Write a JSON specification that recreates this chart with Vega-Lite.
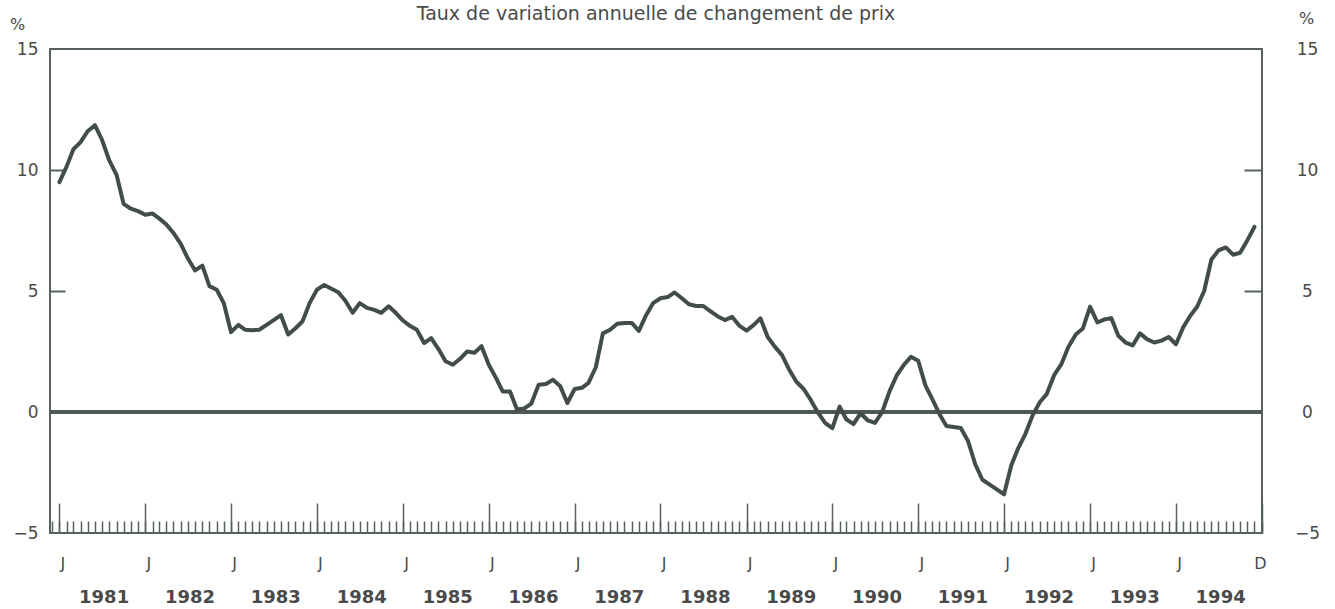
{
  "$schema": "https://vega.github.io/schema/vega-lite/v6.json",
  "width": 1212,
  "height": 484,
  "autosize": "none",
  "padding": {"left": 50, "top": 49, "right": 73, "bottom": 76},
  "background": "white",
  "config": {
    "view": {"stroke": "#56625a", "strokeWidth": 2},
    "axis": {"grid": false, "domain": false, "labelFont": "DejaVu Sans", "labelColor": "#4a4a4a", "tickColor": "#56625a", "titleFont": "DejaVu Sans", "titleColor": "#4a4a4a"}
  },
  "title": {"text": "Taux de variation annuelle de changement de prix", "font": "DejaVu Sans", "fontSize": 19, "fontWeight": "normal", "color": "#4a4a4a", "anchor": "middle", "baseline": "alphabetic", "offset": -29},
  "data": {"values": [
    {"d":"1981-01-01","v":9.5},{"d":"1981-02-01","v":10.15},{"d":"1981-03-01","v":10.85},{"d":"1981-04-01","v":11.15},{"d":"1981-05-01","v":11.6},{"d":"1981-06-01","v":11.85},{"d":"1981-07-01","v":11.25},{"d":"1981-08-01","v":10.4},{"d":"1981-09-01","v":9.8},{"d":"1981-10-01","v":8.6},{"d":"1981-11-01","v":8.4},{"d":"1981-12-01","v":8.3},
    {"d":"1982-01-01","v":8.15},{"d":"1982-02-01","v":8.2},{"d":"1982-03-01","v":8.0},{"d":"1982-04-01","v":7.75},{"d":"1982-05-01","v":7.4},{"d":"1982-06-01","v":6.95},{"d":"1982-07-01","v":6.35},{"d":"1982-08-01","v":5.85},{"d":"1982-09-01","v":6.05},{"d":"1982-10-01","v":5.2},{"d":"1982-11-01","v":5.05},{"d":"1982-12-01","v":4.5},
    {"d":"1983-01-01","v":3.3},{"d":"1983-02-01","v":3.6},{"d":"1983-03-01","v":3.4},{"d":"1983-04-01","v":3.38},{"d":"1983-05-01","v":3.4},{"d":"1983-06-01","v":3.6},{"d":"1983-07-01","v":3.8},{"d":"1983-08-01","v":4.0},{"d":"1983-09-01","v":3.2},{"d":"1983-10-01","v":3.45},{"d":"1983-11-01","v":3.75},{"d":"1983-12-01","v":4.5},
    {"d":"1984-01-01","v":5.05},{"d":"1984-02-01","v":5.25},{"d":"1984-03-01","v":5.1},{"d":"1984-04-01","v":4.95},{"d":"1984-05-01","v":4.6},{"d":"1984-06-01","v":4.1},{"d":"1984-07-01","v":4.5},{"d":"1984-08-01","v":4.3},{"d":"1984-09-01","v":4.22},{"d":"1984-10-01","v":4.1},{"d":"1984-11-01","v":4.37},{"d":"1984-12-01","v":4.1},
    {"d":"1985-01-01","v":3.78},{"d":"1985-02-01","v":3.55},{"d":"1985-03-01","v":3.4},{"d":"1985-04-01","v":2.85},{"d":"1985-05-01","v":3.05},{"d":"1985-06-01","v":2.6},{"d":"1985-07-01","v":2.1},{"d":"1985-08-01","v":1.95},{"d":"1985-09-01","v":2.2},{"d":"1985-10-01","v":2.5},{"d":"1985-11-01","v":2.45},{"d":"1985-12-01","v":2.72},
    {"d":"1986-01-01","v":1.95},{"d":"1986-02-01","v":1.4},{"d":"1986-03-01","v":0.85},{"d":"1986-04-01","v":0.85},{"d":"1986-05-01","v":0.1},{"d":"1986-06-01","v":0.15},{"d":"1986-07-01","v":0.35},{"d":"1986-08-01","v":1.13},{"d":"1986-09-01","v":1.16},{"d":"1986-10-01","v":1.33},{"d":"1986-11-01","v":1.06},{"d":"1986-12-01","v":0.37},
    {"d":"1987-01-01","v":0.95},{"d":"1987-02-01","v":1.0},{"d":"1987-03-01","v":1.2},{"d":"1987-04-01","v":1.85},{"d":"1987-05-01","v":3.25},{"d":"1987-06-01","v":3.4},{"d":"1987-07-01","v":3.65},{"d":"1987-08-01","v":3.68},{"d":"1987-09-01","v":3.68},{"d":"1987-10-01","v":3.35},{"d":"1987-11-01","v":4.0},{"d":"1987-12-01","v":4.5},
    {"d":"1988-01-01","v":4.7},{"d":"1988-02-01","v":4.75},{"d":"1988-03-01","v":4.94},{"d":"1988-04-01","v":4.7},{"d":"1988-05-01","v":4.45},{"d":"1988-06-01","v":4.38},{"d":"1988-07-01","v":4.38},{"d":"1988-08-01","v":4.16},{"d":"1988-09-01","v":3.95},{"d":"1988-10-01","v":3.8},{"d":"1988-11-01","v":3.93},{"d":"1988-12-01","v":3.57},
    {"d":"1989-01-01","v":3.36},{"d":"1989-02-01","v":3.6},{"d":"1989-03-01","v":3.87},{"d":"1989-04-01","v":3.1},{"d":"1989-05-01","v":2.7},{"d":"1989-06-01","v":2.35},{"d":"1989-07-01","v":1.76},{"d":"1989-08-01","v":1.25},{"d":"1989-09-01","v":0.95},{"d":"1989-10-01","v":0.5},{"d":"1989-11-01","v":-0.03},{"d":"1989-12-01","v":-0.45},
    {"d":"1990-01-01","v":-0.67},{"d":"1990-02-01","v":0.22},{"d":"1990-03-01","v":-0.3},{"d":"1990-04-01","v":-0.5},{"d":"1990-05-01","v":-0.05},{"d":"1990-06-01","v":-0.35},{"d":"1990-07-01","v":-0.45},{"d":"1990-08-01","v":0.0},{"d":"1990-09-01","v":0.85},{"d":"1990-10-01","v":1.5},{"d":"1990-11-01","v":1.95},{"d":"1990-12-01","v":2.28},
    {"d":"1991-01-01","v":2.12},{"d":"1991-02-01","v":1.09},{"d":"1991-03-01","v":0.55},{"d":"1991-04-01","v":-0.08},{"d":"1991-05-01","v":-0.58},{"d":"1991-06-01","v":-0.62},{"d":"1991-07-01","v":-0.66},{"d":"1991-08-01","v":-1.2},{"d":"1991-09-01","v":-2.17},{"d":"1991-10-01","v":-2.8},{"d":"1991-11-01","v":-3.0},{"d":"1991-12-01","v":-3.2},
    {"d":"1992-01-01","v":-3.4},{"d":"1992-02-01","v":-2.2},{"d":"1992-03-01","v":-1.5},{"d":"1992-04-01","v":-0.9},{"d":"1992-05-01","v":-0.15},{"d":"1992-06-01","v":0.4},{"d":"1992-07-01","v":0.75},{"d":"1992-08-01","v":1.52},{"d":"1992-09-01","v":1.98},{"d":"1992-10-01","v":2.7},{"d":"1992-11-01","v":3.2},{"d":"1992-12-01","v":3.45},
    {"d":"1993-01-01","v":4.35},{"d":"1993-02-01","v":3.7},{"d":"1993-03-01","v":3.82},{"d":"1993-04-01","v":3.88},{"d":"1993-05-01","v":3.15},{"d":"1993-06-01","v":2.87},{"d":"1993-07-01","v":2.75},{"d":"1993-08-01","v":3.25},{"d":"1993-09-01","v":3.0},{"d":"1993-10-01","v":2.87},{"d":"1993-11-01","v":2.95},{"d":"1993-12-01","v":3.1},
    {"d":"1994-01-01","v":2.8},{"d":"1994-02-01","v":3.5},{"d":"1994-03-01","v":3.95},{"d":"1994-04-01","v":4.35},{"d":"1994-05-01","v":5.0},{"d":"1994-06-01","v":6.3},{"d":"1994-07-01","v":6.68},{"d":"1994-08-01","v":6.8},{"d":"1994-09-01","v":6.5},{"d":"1994-10-01","v":6.58},{"d":"1994-11-01","v":7.1},{"d":"1994-12-01","v":7.65}
  ]},
  "layer": [
    {
      "mark": {"type": "rule", "stroke": "#4d5a52", "strokeWidth": 2.5},
      "encoding": {"y": {"datum": 0, "type": "quantitative", "axis": null}}
    },
    {
      "mark": {"type": "line", "stroke": "#434d47", "strokeWidth": 4, "strokeJoin": "round", "strokeCap": "round"},
      "encoding": {
        "x": {"field": "d", "type": "temporal", "scale": {"type": "utc", "domain": [{"year": 1980, "month": 11, "date": 22, "utc": true}, {"year": 1995, "month": 1, "date": 2, "utc": true}]},
              "axis": {"orient": "bottom", "title": null, "labels": false, "ticks": true, "tickSize": -12, "tickWidth": 1.5, "tickCount": {"interval": "month", "step": 1}}},
        "y": {"field": "v", "type": "quantitative", "scale": {"domain": [-5, 15], "nice": false, "zero": false},
              "axis": {"orient": "left", "values": [-5, 0, 5, 10, 15], "ticks": false, "labelPadding": 12, "labelFontSize": 17, "labelBaseline": "middle",
                       "title": "%", "titleAngle": 0, "titleX": -33, "titleY": -25, "titleAlign": "center", "titleBaseline": "middle", "titleFontSize": 16, "titleFontWeight": "normal"}}
      }
    },
    {
      "mark": {"type": "line", "strokeOpacity": 0},
      "encoding": {
        "x": {"field": "d", "type": "temporal", "axis": {"orient": "bottom", "title": null, "labels": false, "ticks": true, "tickSize": -30, "tickWidth": 1.5, "tickCount": {"interval": "year", "step": 1}}},
        "y": {"field": "v", "type": "quantitative", "axis": {"orient": "left", "title": null, "labels": false, "ticks": true, "tickSize": -15, "tickWidth": 2, "values": [5, 10]}}
      }
    },
    {
      "mark": {"type": "line", "strokeOpacity": 0},
      "encoding": {
        "x": {"field": "d", "type": "temporal", "axis": {"orient": "bottom", "title": null, "ticks": false, "labelPadding": 30, "labelBaseline": "middle", "labelAlign": "center", "labelFontSize": 16, "labelFlush": false, "labelOverlap": false,
              "values": [{"year":1981,"month":1,"date":14,"utc":true},{"year":1982,"month":1,"date":14,"utc":true},{"year":1983,"month":1,"date":14,"utc":true},{"year":1984,"month":1,"date":14,"utc":true},{"year":1985,"month":1,"date":14,"utc":true},{"year":1986,"month":1,"date":14,"utc":true},{"year":1987,"month":1,"date":14,"utc":true},{"year":1988,"month":1,"date":14,"utc":true},{"year":1989,"month":1,"date":14,"utc":true},{"year":1990,"month":1,"date":14,"utc":true},{"year":1991,"month":1,"date":14,"utc":true},{"year":1992,"month":1,"date":14,"utc":true},{"year":1993,"month":1,"date":14,"utc":true},{"year":1994,"month":1,"date":14,"utc":true},{"year":1994,"month":12,"date":24,"utc":true}],
              "labelExpr": "utcmonth(datum.value) == 0 ? 'J' : 'D'"}},
        "y": {"field": "v", "type": "quantitative", "axis": {"orient": "right", "values": [-5, 0, 5, 10, 15], "ticks": false, "labelPadding": 45, "labelAlign": "center", "labelBaseline": "middle", "labelFontSize": 17,
              "title": "%", "titleAngle": 0, "titleX": 44, "titleY": -31, "titleAlign": "center", "titleBaseline": "middle", "titleFontSize": 16, "titleFontWeight": "normal"}}
      }
    },
    {
      "mark": {"type": "line", "strokeOpacity": 0},
      "encoding": {
        "x": {"field": "d", "type": "temporal", "axis": {"orient": "bottom", "title": null, "ticks": false, "labelPadding": 64, "labelBaseline": "middle", "labelAlign": "center", "labelFontSize": 18, "labelFontWeight": "bold", "labelFlush": false, "labelOverlap": false,
              "values": [{"year":1981,"month":7,"date":8,"utc":true},{"year":1982,"month":7,"date":8,"utc":true},{"year":1983,"month":7,"date":8,"utc":true},{"year":1984,"month":7,"date":8,"utc":true},{"year":1985,"month":7,"date":8,"utc":true},{"year":1986,"month":7,"date":8,"utc":true},{"year":1987,"month":7,"date":8,"utc":true},{"year":1988,"month":7,"date":8,"utc":true},{"year":1989,"month":7,"date":8,"utc":true},{"year":1990,"month":7,"date":8,"utc":true},{"year":1991,"month":7,"date":8,"utc":true},{"year":1992,"month":7,"date":8,"utc":true},{"year":1993,"month":7,"date":8,"utc":true},{"year":1994,"month":7,"date":8,"utc":true}],
              "labelExpr": "utcFormat(datum.value, '%Y')"}},
        "y": {"field": "v", "type": "quantitative", "axis": {"orient": "right", "title": null, "labels": false, "ticks": true, "tickSize": -18, "tickWidth": 2, "values": [5, 10]}}
      }
    }
  ],
  "resolve": {"scale": {"x": "shared", "y": "shared"}, "axis": {"x": "independent", "y": "independent"}}
}
